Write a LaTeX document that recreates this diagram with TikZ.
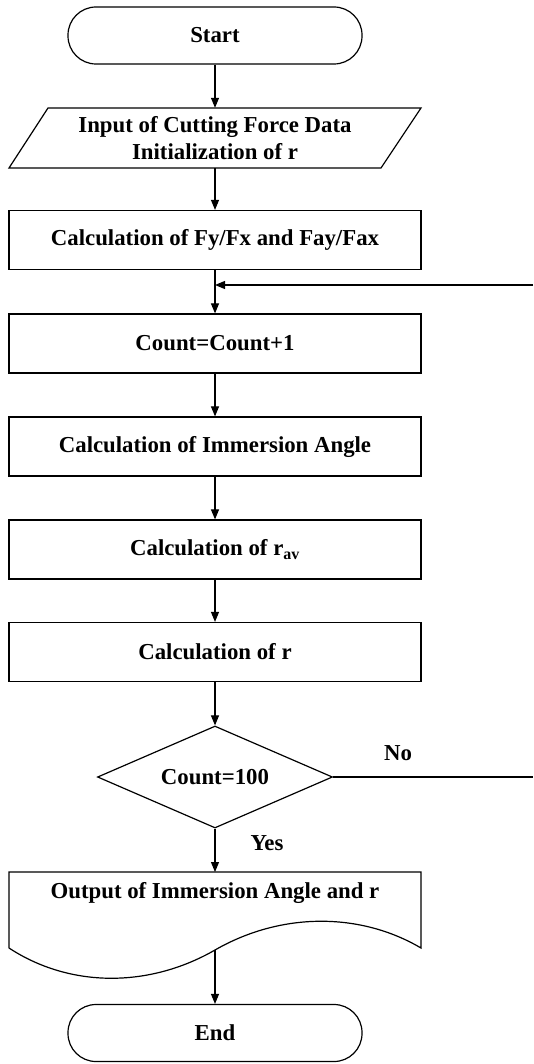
\documentclass[tikz,border=0pt]{standalone}
\usepackage{fontspec}
\setmainfont{Liberation Serif}
\usetikzlibrary{arrows.meta,shapes.geometric}

\begin{document}
\begin{tikzpicture}[x=1pt,y=-1pt,
  font=\fontsize{22.8}{26.5}\selectfont\bfseries,
  caja/.style={draw,line width=1.2pt,minimum width=412pt,minimum height=59pt,inner sep=0pt},
  term/.style={draw,line width=1.2pt,rounded corners=28pt,minimum width=294pt,minimum height=57pt,inner sep=0pt},
  rombo/.style={draw,diamond,aspect=2.3,line width=1.2pt,minimum width=235pt,minimum height=102pt,inner sep=0pt},
  flecha/.style={-{Triangle[length=10pt,width=8pt]},line width=1.1pt}]
  \useasboundingbox (0,0) rectangle (533,1064);
  \def\xc{215}

  % Bloques
  \node[term] (inicio) at (\xc,35.5) {Start};
  \node[align=center,minimum height=60pt,inner sep=0pt] (entrada) at (\xc,138) {Input of Cutting Force Data\\Initialization of r};
  \node[caja] (fuerzas) at (\xc,240) {Calculation of Fy/Fx and Fay/Fax};
  \node[caja] (cuenta) at (\xc,343.5) {Count=Count+1};
  \node[caja] (angulo) at (\xc,446.5) {Calculation of Immersion Angle};
  \node[caja] (rmedio) at (\xc,549.5) {Calculation of r\textsubscript{av}};
  \node[caja] (rcalc) at (\xc,652) {Calculation of r};
  \node[rombo] (control) at (\xc,777) {Count=100};
  \node (salida) at (\xc,893) {Output of Immersion Angle and r};
  \node[term] (fin) at (\xc,1033) {End};

  % Paralelogramo y documento
  \draw[line width=1.2pt] (48,108) -- (421,108) -- (381,168) -- (9,168) -- cycle;
  \draw[line width=1.2pt] (9,948) -- (9,872) -- (421,872) -- (421,948)
    .. controls (360,912) and (281,912) .. (215,950)
    .. controls (149,988) and (70,988) .. (9,948);

  % Etiquetas
  \node (lblno) at (398,753) {No};
  \node (lblsi) at (267,843) {Yes};

  % Flechas
  \coordinate (ola) at (\xc,950);
  \coordinate (regreso) at (533,285);
  \coordinate (union) at (\xc,285);
  \coordinate (nofin) at (533,777);
  \draw[flecha] (inicio.south) -- (entrada.north);
  \draw[flecha] (entrada.south) -- (fuerzas.north);
  \draw[flecha] (fuerzas.south) -- (cuenta.north);
  \draw[flecha] (regreso) -- (union);
  \draw[flecha] (cuenta.south) -- (angulo.north);
  \draw[flecha] (angulo.south) -- (rmedio.north);
  \draw[flecha] (rmedio.south) -- (rcalc.north);
  \draw[flecha] (rcalc.south) -- (control.north);
  \draw[line width=1.1pt] (control.east) -- (nofin);
  \draw[flecha] (control.south) -- (salida.center |- 0,872);
  \draw[flecha] (ola) -- (fin.north);
\end{tikzpicture}
\end{document}
